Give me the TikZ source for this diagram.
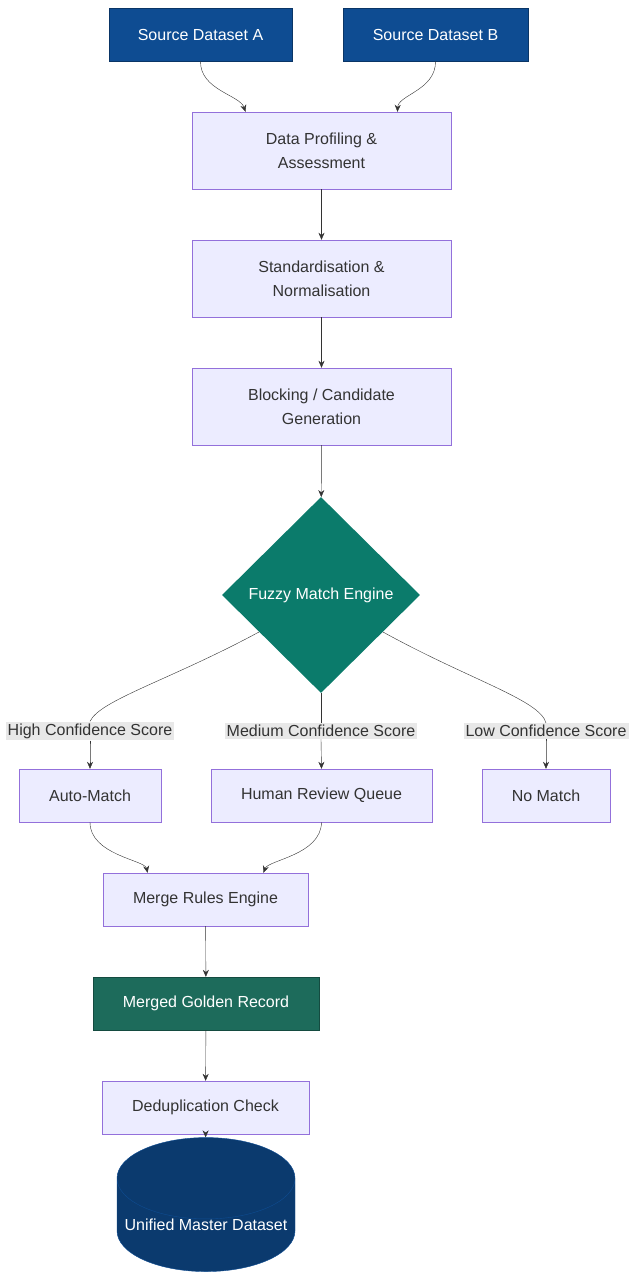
\documentclass[tikz,border=0pt]{standalone}
\usepackage{fontspec}
\setmainfont{Liberation Sans}
\usetikzlibrary{arrows.meta,shapes.geometric,positioning}
\definecolor{srcblue}{HTML}{0E4C92}
\definecolor{boxfill}{HTML}{ECECFF}
\definecolor{boxline}{HTML}{9370DB}
\definecolor{engteal}{HTML}{0B7B6B}
\definecolor{goldgreen}{HTML}{1D6B5B}
\definecolor{dbnavy}{HTML}{0B3A6E}
\definecolor{edgegray}{HTML}{333333}
\tikzset {>=Stealth}
\tikzset{
  stepbox/.style={draw=boxline,fill=boxfill,minimum height=53pt,align=center,text=black!80,font=\fontsize{16}{24}\selectfont},
  tallbox/.style={stepbox,minimum width=259pt,minimum height=77pt},
  srcbox/.style={stepbox,draw=srcblue!70!black,fill=srcblue,text=white},
  scorelbl/.style={fill=black!9,inner sep=2pt,text=black!80,font=\fontsize{16}{19}\selectfont},
  edge/.style={draw=edgegray,-{Stealth[length=7pt,width=6pt]}}
}
\begin{document}
\begin{tikzpicture}[x=1pt,y=-1pt]
\useasboundingbox (0,0) rectangle (635,1276);
\node[srcbox,minimum width=183pt] (srcA) at (200.5,34.5) {Source Dataset A};
\node[srcbox,minimum width=185pt] (srcB) at (435.5,34.5) {Source Dataset B};
\node[tallbox] (profile) at (321.5,150.5) {Data Profiling \&\\Assessment};
\node[tallbox] (standard) at (321.5,278.5) {Standardisation \&\\Normalisation};
\node[tallbox] (block) at (321.5,406.5) {Blocking / Candidate\\Generation};
\node[diamond,fill=engteal,minimum width=198pt,minimum height=196pt,inner sep=0pt,text=white,font=\fontsize{16}{19}\selectfont] (fuzzy) at (321,595) {Fuzzy Match Engine};
\node[stepbox,minimum width=142pt] (auto) at (90,795.5) {Auto-Match};
\node[stepbox,minimum width=221pt] (review) at (321.5,795.5) {Human Review Queue};
\node[stepbox,minimum width=128pt] (nomatch) at (546,795.5) {No Match};
\node[scorelbl] (high) at (90,731) {High Confidence Score};
\node[scorelbl] (medium) at (321,731) {Medium Confidence Score};
\node[scorelbl] (low) at (546,731) {Low Confidence Score};
\node[stepbox,minimum width=205pt] (merge) at (205.5,899.5) {Merge Rules Engine};
\node[stepbox,draw=goldgreen!70!black,fill=goldgreen,text=white,minimum width=226pt] (golden) at (206,1003.5) {Merged Golden Record};
\node[stepbox,minimum width=207pt] (dedup) at (205.5,1107.5) {Deduplication Check};
\node[cylinder,shape border rotate=90,aspect=0.5,draw=srcblue,fill=dbnavy,text=white,minimum width=178pt,minimum height=80pt,inner sep=0pt,font=\fontsize{16}{19}\selectfont] (master) at (206,1225) {Unified Master Dataset};
% connectors
\draw[edge] (srcA.south) .. controls (200,90) and (240,95) .. ([xshift=-76pt]profile.north);
\draw[edge] (srcB.south) .. controls (436,90) and (398,95) .. ([xshift=76pt]profile.north);
\draw[edge] (profile) -- (standard);
\draw[edge] (standard) -- (block);
\draw[edge] (block) -- (fuzzy);
\draw[edge,-] (fuzzy.south west) ++(-2,37) coordinate (hiStart);
\draw[draw=edgegray] (259,632) .. controls (170,680) and (100,700) .. (high.north);
\draw[draw=edgegray] (383,632) .. controls (470,680) and (540,700) .. (low.north);
\draw[draw=edgegray] (fuzzy.south) -- (medium.north);
\draw[edge] (high.south) .. controls (90,748) and (90,755) .. (auto.north);
\draw[edge] (medium.south) -- (review.north);
\draw[edge] (low.south) .. controls (546,748) and (546,755) .. (nomatch.north);
\draw[edge] (auto.south) .. controls (90,855) and (145,860) .. ([xshift=-58pt]merge.north);
\draw[edge] (review.south) .. controls (321,855) and (268,860) .. ([xshift=58pt]merge.north);
\draw[edge] (merge) -- (golden);
\draw[edge] (golden) -- (dedup);
\draw[edge] (dedup) -- (master);
\end{tikzpicture}
\end{document}
